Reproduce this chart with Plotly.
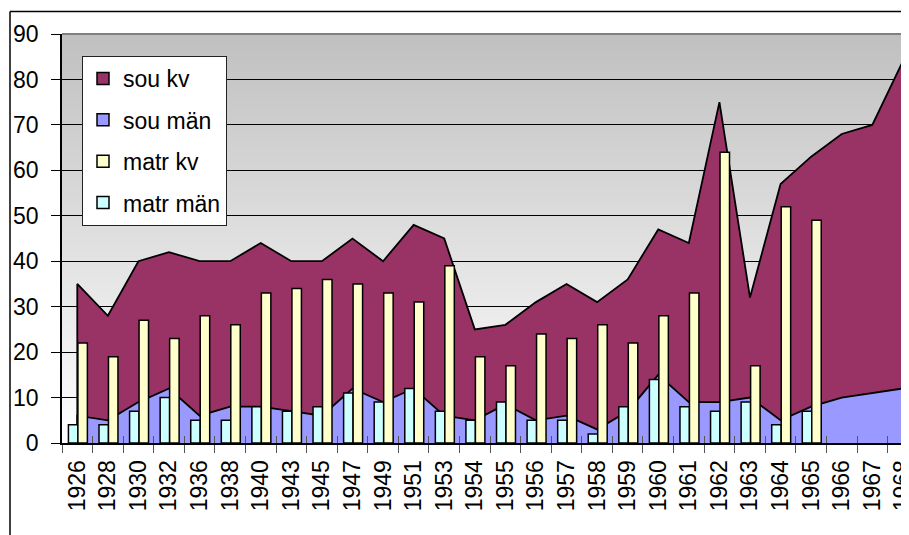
import base64
import struct
import zlib
import plotly.graph_objects as go

years = ["1926", "1928", "1930", "1932", "1936", "1938", "1940", "1943", "1945", "1947",
         "1949", "1951", "1953", "1954", "1955", "1956", "1957", "1958", "1959", "1960",
         "1961", "1962", "1963", "1964", "1965", "1966", "1967", "1968"]

sou_kv = [35, 28, 40, 42, 40, 40, 44, 40, 40, 45, 40, 48, 45, 25, 26, 31, 35, 31, 36, 47,
          44, 75, 32, 57, 63, 68, 70, 84]
sou_man = [6, 5, 9, 12, 6, 8, 8, 7, 6, 12, 9, 12, 6, 5, 8.5, 5, 6, 3, 7, 15,
           9, 9, 10, 5, 8, 10, 11, 12]
matr_kv = [22, 19, 27, 23, 28, 26, 33, 34, 36, 35, 33, 31, 39, 19, 17, 24, 23, 26, 22, 28,
           33, 64, 17, 52, 49, None, None, None]
matr_man = [4, 4, 7, 10, 5, 5, 8, 7, 8, 11, 9, 12, 7, 5, 9, 5, 5, 2, 8, 14,
            8, 7, 9, 4, 7, None, None, None]

C_SOU_KV = "#993366"
C_SOU_MAN = "#9999FF"
C_MATR_KV = "#FFFFCC"
C_MATR_MAN = "#CCFFFF"
FONT = "Liberation Sans, Arial, sans-serif"


def gradient_png(top, bottom, n=256):
    rows = b""
    for i in range(n):
        t = i / (n - 1)
        rows += b"\x00" + bytes(round(top[k] + (bottom[k] - top[k]) * t) for k in range(3))

    def chunk(tag, data):
        return (struct.pack(">I", len(data)) + tag + data
                + struct.pack(">I", zlib.crc32(tag + data) & 0xFFFFFFFF))

    ihdr = struct.pack(">IIBBBBB", 1, n, 8, 2, 0, 0, 0)
    png = (b"\x89PNG\r\n\x1a\n" + chunk(b"IHDR", ihdr)
           + chunk(b"IDAT", zlib.compress(rows)) + chunk(b"IEND", b""))
    return "data:image/png;base64," + base64.b64encode(png).decode()


def closed(xs, ys):
    return [xs[0]] + list(xs) + [xs[-1]], [0] + list(ys) + [0]


fig = go.Figure()

x_kv, y_kv = closed(years, sou_kv)
fig.add_trace(go.Scatter(x=x_kv, y=y_kv, mode="lines", fill="toself",
                         fillcolor=C_SOU_KV, line=dict(color="black", width=1.8),
                         name="sou kv", showlegend=False, hoverinfo="skip"))
x_sm, y_sm = closed(years, sou_man)
fig.add_trace(go.Scatter(x=x_sm, y=y_sm, mode="lines", fill="toself",
                         fillcolor=C_SOU_MAN, line=dict(color="black", width=1.8),
                         name="sou män", showlegend=False, hoverinfo="skip"))

BW = 0.31
fig.add_trace(go.Bar(x=years, y=matr_man, name="matr män", xaxis="x2", yaxis="y2",
                     width=BW, offset=-0.29,
                     marker=dict(color=C_MATR_MAN, line=dict(color="black", width=1.5)),
                     legendgroup="d", legendrank=4))
fig.add_trace(go.Bar(x=years, y=matr_kv, name="matr kv", xaxis="x2", yaxis="y2",
                     width=BW, offset=0.02,
                     marker=dict(color=C_MATR_KV, line=dict(color="black", width=1.5)),
                     legendgroup="c", legendrank=3))
# legend entries for the area series
fig.add_trace(go.Bar(x=[None], y=[None], name="sou kv", xaxis="x2", yaxis="y2",
                     marker=dict(color=C_SOU_KV, line=dict(color="black", width=1.5)),
                     legendgroup="a", legendrank=1))
fig.add_trace(go.Bar(x=[None], y=[None], name="sou män", xaxis="x2", yaxis="y2",
                     marker=dict(color=C_SOU_MAN, line=dict(color="black", width=1.5)),
                     legendgroup="b", legendrank=2))

XR = [-0.5, 27.2]
common_x = dict(type="category", categoryorder="array", categoryarray=years,
                range=XR, tickson="boundaries", fixedrange=True)

# page body has an 8px margin: compensate so the plot sits where the reference has it
ML, MT = 54, 26
PW, PH = 847, 409.5
W, H = 901, 527


def px(x):
    return (x - 8 - ML) / PW


def py(y):
    return (8 + MT + PH - y) / PH


fig.update_layout(
    width=W, height=H,
    margin=dict(l=ML, r=W - ML - PW, t=MT, b=H - MT - PH, autoexpand=False),
    paper_bgcolor="white",
    plot_bgcolor="rgba(0,0,0,0)",
    barmode="overlay",
    font=dict(family=FONT, color="black"),
    xaxis=dict(**common_x, ticks="outside", ticklen=8, tickcolor="#555555", tickwidth=1,
               tickangle=-90, tickfont=dict(size=23, family=FONT),
               showline=True, linecolor="black", linewidth=2, showgrid=False,
               automargin=False, ticklabelstandoff=6),
    xaxis2=dict(**common_x, overlaying="x", anchor="y", side="bottom",
                ticks="inside", ticklen=7, tickcolor="#555555", tickwidth=1,
                showticklabels=False, showline=False, showgrid=False),
    yaxis=dict(range=[0, 90], dtick=10, ticks="outside", ticklen=9, tickcolor="black",
               tickfont=dict(size=23, family=FONT), showline=True, linecolor="black",
               linewidth=1.5, showgrid=True, gridcolor="black", gridwidth=1,
               zeroline=False, automargin=False, ticklabelstandoff=8, fixedrange=True),
    yaxis2=dict(range=[0, 90], overlaying="y", showgrid=False, showticklabels=False,
                ticks="", zeroline=False, showline=False, fixedrange=True),
    legend=dict(x=px(82), y=py(56), xanchor="left", yanchor="top",
                bgcolor="white", bordercolor="#222222", borderwidth=1,
                font=dict(size=23, family=FONT, color="black"),
                tracegroupgap=8.5, traceorder="grouped"),
    images=[dict(source=gradient_png((192, 192, 192), (255, 255, 255)),
                 xref="paper", yref="paper", x=0, y=1, sizex=1, sizey=1,
                 sizing="stretch", xanchor="left", yanchor="top", layer="below")],
    shapes=[
        dict(type="line", xref="paper", yref="paper", x0=0, x1=1.2, y0=1, y1=1,
             line=dict(color="#808080", width=2), layer="above"),
        dict(type="line", xref="paper", yref="paper", x0=px(10), x1=px(10),
             y0=py(560), y1=py(11.5), line=dict(color="black", width=1.5)),
        dict(type="line", xref="paper", yref="paper", x0=px(10), x1=1.2,
             y0=py(11.5), y1=py(11.5), line=dict(color="black", width=1.5)),
    ],
)

fig.write_html("out.html")
